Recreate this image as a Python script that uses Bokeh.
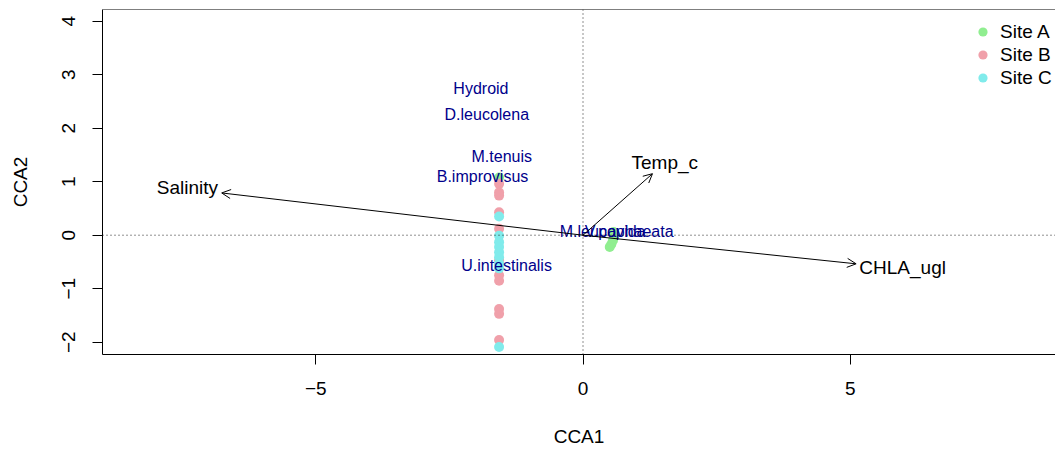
from bokeh.plotting import figure
from bokeh.models import (Range1d, FixedTicker, Arrow, OpenHead, Span, Legend,
                          LegendItem, ColumnDataSource)
from bokeh.embed import file_html
from bokeh.resources import INLINE
from bokeh.core.properties import value

# ---- data ----
site_a_x = [-1.57, 0.57, 0.58, 0.56, 0.53, 0.50]
site_a_y = [1.08, 0.06, -0.02, -0.10, -0.17, -0.22]

site_b_x = [-1.57, -1.57, -1.57, -1.57, -1.57, -1.57, -1.57, -1.57, -1.57, -1.57, -1.57]
site_b_y = [0.96, 0.80, 0.74, 0.43, 0.12, -0.47, -0.75, -0.85, -1.38, -1.47, -1.96]

site_c_x = [-1.57, -1.57, -1.57, -1.57, -1.57, -1.57, -1.57, -1.57, -1.57]
site_c_y = [0.35, -0.01, -0.13, -0.22, -0.32, -0.41, -0.53, -0.62, -2.09]

species = ["Hydroid", "D.leucolena", "M.tenuis", "B.improvisus",
           "U.intestinalis", "M.leucophaeata", "V.pavida"]
species_x = [-1.91, -1.80, -1.52, -1.88, -1.43, 0.63, 0.60]
species_y = [2.74, 2.26, 1.47, 1.09, -0.56, 0.06, 0.06]

env = ["Salinity", "Temp_c", "CHLA_ugl"]
env_x = [-6.76, 1.30, 5.11]
env_y = [0.79, 1.15, -0.535]
env_label_x = [-7.40, 1.53, 5.98]
env_label_y = [0.89, 1.36, -0.60]

x_ticks = [-5, 0, 5]
y_ticks = [-2, -1, 0, 1, 2, 3, 4]

sites = ["Site A", "Site B", "Site C"]
site_colors = ["#90EE90", "#F0A0AA", "#80EBEB"]

FONT = "Liberation Sans"
X0, X1 = -8.99, 8.84
Y0, Y1 = -2.23, 4.219

p = figure(width=1055, height=449, output_backend="svg", toolbar_location=None,
           x_range=Range1d(X0, X1), y_range=Range1d(Y0, Y1),
           min_border_left=102, min_border_right=0, min_border_top=9,
           min_border_bottom=95, x_axis_label="CCA1", y_axis_label="CCA2")

p.xgrid.visible = False
p.ygrid.visible = False
p.outline_line_color = None
p.background_fill_color = "white"
p.border_fill_color = "white"

for ax in (p.xaxis[0], p.yaxis[0]):
    ax.axis_line_color = "black"
    ax.major_tick_line_color = "black"
    ax.major_tick_in = 0
    ax.major_tick_out = 10
    ax.minor_tick_line_color = None
    ax.major_label_text_font = FONT
    ax.major_label_text_font_size = "19px"
    ax.major_label_text_color = "black"
    ax.axis_label_text_font = FONT
    ax.axis_label_text_font_size = "19px"
    ax.axis_label_text_font_style = "normal"
    ax.axis_label_text_color = "black"

p.xaxis.ticker = FixedTicker(ticks=x_ticks)
p.yaxis.ticker = FixedTicker(ticks=y_ticks)
p.xaxis.major_label_overrides = {t: (str(t).replace("-", "\u2212")) for t in x_ticks}
p.yaxis.major_label_overrides = {t: (str(t).replace("-", "\u2212")) for t in y_ticks}
p.yaxis.major_label_orientation = "vertical"
p.xaxis.major_label_standoff = 17
p.xaxis.axis_label_standoff = 28
p.yaxis.major_label_standoff = 17
p.yaxis.axis_label_standoff = 29

# top edge of the plot box
p.add_layout(Span(location=Y1, dimension="width", line_color="black", line_width=1))

# dotted reference lines
p.add_layout(Span(location=0, dimension="width", line_color="#222222",
                  line_dash="1 3", line_width=1))
p.add_layout(Span(location=0, dimension="height", line_color="#222222",
                  line_dash="1 3", line_width=1))

ra = p.scatter(site_a_x, site_a_y, size=10, color=site_colors[0], line_color=None)
rb = p.scatter(site_b_x, site_b_y, size=10, color=site_colors[1], line_color=None)
rc = p.scatter(site_c_x, site_c_y, size=10, color=site_colors[2], line_color=None)

sp_src = ColumnDataSource(dict(x=species_x, y=species_y, t=species))
p.text(x="x", y="y", text="t", source=sp_src, text_font=value(FONT),
       text_font_size="16px", text_align="center", text_baseline="middle",
       text_color="#00008B")

arr_src = ColumnDataSource(dict(x0=[0] * len(env), y0=[0] * len(env), x1=env_x, y1=env_y))
p.add_layout(Arrow(end=OpenHead(size=9, line_width=1, line_color="black"),
                   x_start="x0", y_start="y0", x_end="x1", y_end="y1",
                   source=arr_src, line_color="black", line_width=1))

env_src = ColumnDataSource(dict(x=env_label_x, y=env_label_y, t=env))
p.text(x="x", y="y", text="t", source=env_src, text_font=value(FONT),
       text_font_size="19px", text_align="center", text_baseline="middle",
       text_color="black")

legend = Legend(items=[LegendItem(label=sites[0], renderers=[ra]),
                       LegendItem(label=sites[1], renderers=[rb]),
                       LegendItem(label=sites[2], renderers=[rc])],
                location=(869, 265), orientation="vertical",
                border_line_alpha=0, background_fill_alpha=0,
                padding=0, margin=0, spacing=0,
                glyph_width=23, glyph_height=23, label_height=23,
                label_standoff=6, label_text_font=FONT,
                label_text_font_size="19px", label_text_color="black")
p.add_layout(legend)

open("out.html", "w").write(file_html(p, INLINE))
